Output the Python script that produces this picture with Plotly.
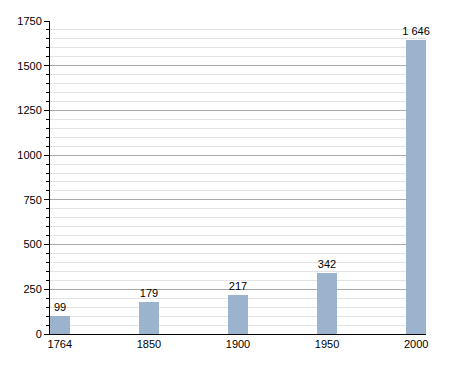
import plotly.graph_objects as go

years = ["1764", "1850", "1900", "1950", "2000"]
population = [99, 179, 217, 342, 1646]
labels = ["99", "179", "217", "342", "1 646"]

fig = go.Figure(go.Bar(
    x=list(range(len(years))), y=population,
    text=labels, textposition="outside", cliponaxis=False,
    textfont=dict(size=11, color="black"),
    marker=dict(color="#9bb3cd", line=dict(width=0)),
    width=0.22,
))
fig.update_layout(
    width=455, height=373,
    margin=dict(l=50, r=29, t=21, b=39),
    plot_bgcolor="white", paper_bgcolor="white",
    font=dict(family="Liberation Sans, Arial, sans-serif", size=11, color="black"),
    showlegend=False,
    bargap=0,
    uniformtext=dict(minsize=11, mode="show"),
)
fig.update_xaxes(
    range=[-0.11, 4.11], tickmode="array", tickvals=list(range(len(years))), ticktext=years,
    showgrid=False, showline=True, linecolor="black", linewidth=1, ticks="", zeroline=False,
)
fig.update_yaxes(
    range=[0, 1750], tick0=0, dtick=250, showgrid=True, gridcolor="#aaaaaa", gridwidth=1,
    showline=True, linecolor="black", linewidth=1, ticks="outside", ticklen=5, tickcolor="black",
    zeroline=False,
    minor=dict(dtick=50, showgrid=True, gridcolor="#e3e3e3", ticks="outside", ticklen=3, tickcolor="black"),
)
fig.write_html("out.html")
